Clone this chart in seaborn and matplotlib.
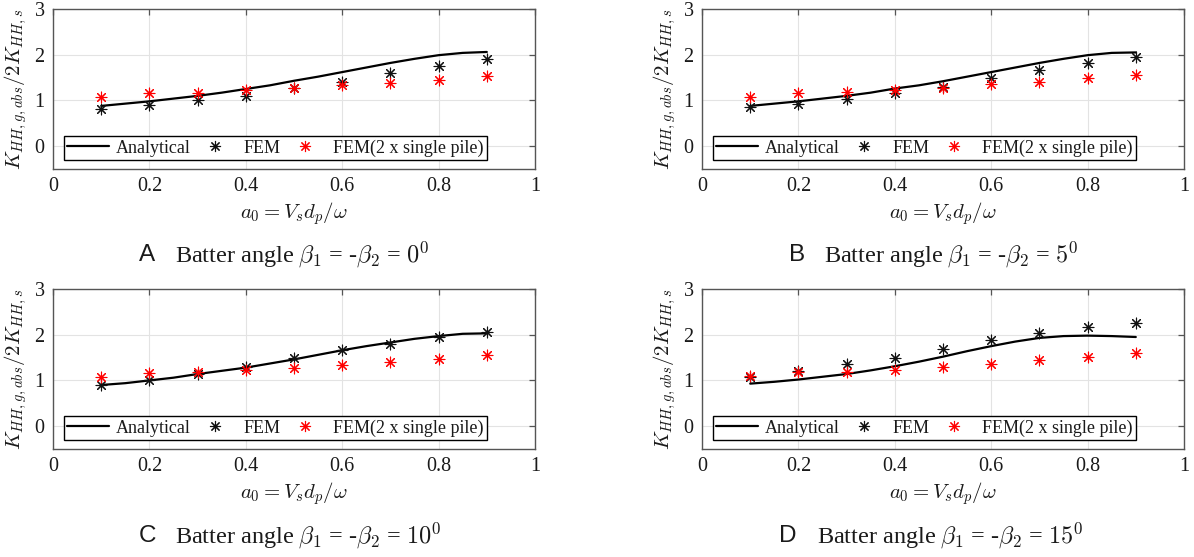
import matplotlib
matplotlib.use("Agg")
import matplotlib.pyplot as plt
from matplotlib.lines import Line2D
import numpy as np
import pandas as pd
import seaborn as sns

# Dimensionless frequency a0 for the FEM results
a0 = [0.1, 0.2, 0.3, 0.4, 0.5, 0.6, 0.7, 0.8, 0.9]
# Frequency grid of the analytical solution
a0_fine = [0.1, 0.15, 0.2, 0.25, 0.3, 0.35, 0.4, 0.45, 0.5, 0.55,
           0.6, 0.65, 0.7, 0.75, 0.8, 0.85, 0.9]

# Panel A: batter angle 0 deg
analytical_A = [0.88, 0.93, 0.98, 1.04, 1.10, 1.17, 1.25, 1.33, 1.43, 1.52,
                1.62, 1.72, 1.82, 1.91, 1.99, 2.04, 2.06]
fem_A = [0.82, 0.89, 1.00, 1.09, 1.27, 1.40, 1.59, 1.76, 1.91]
fem2_A = [1.07, 1.16, 1.17, 1.23, 1.27, 1.34, 1.39, 1.45, 1.54]

# Panel B: batter angle 5 deg
analytical_B = [0.88, 0.93, 0.98, 1.04, 1.10, 1.17, 1.26, 1.33, 1.42, 1.52,
                1.62, 1.72, 1.82, 1.91, 1.99, 2.04, 2.05]
fem_B = [0.85, 0.92, 1.04, 1.16, 1.29, 1.49, 1.66, 1.82, 1.96]
fem2_B = [1.07, 1.17, 1.18, 1.22, 1.28, 1.35, 1.40, 1.48, 1.55]

# Panel C: batter angle 10 deg
analytical_C = [0.90, 0.94, 1.00, 1.06, 1.14, 1.21, 1.28, 1.37, 1.46, 1.56,
                1.66, 1.75, 1.83, 1.91, 1.97, 2.02, 2.03]
fem_C = [0.91, 1.00, 1.15, 1.30, 1.48, 1.66, 1.80, 1.95, 2.07]
fem2_C = [1.07, 1.17, 1.19, 1.22, 1.28, 1.34, 1.40, 1.47, 1.56]

# Panel D: batter angle 15 deg
analytical_D = [0.93, 0.97, 1.02, 1.08, 1.14, 1.22, 1.31, 1.41, 1.52, 1.64,
                1.75, 1.85, 1.93, 1.97, 1.98, 1.97, 1.95]
fem_D = [1.08, 1.20, 1.37, 1.50, 1.69, 1.88, 2.04, 2.16, 2.26]
fem2_D = [1.09, 1.19, 1.18, 1.23, 1.30, 1.37, 1.45, 1.52, 1.60]

panel_letters = ["A", "B", "C", "D"]
batter_angles = ["0", "5", "10", "15"]
series_labels = ["Analytical", "FEM", "FEM(2 x single pile)"]
xtick_values = [0, 0.2, 0.4, 0.6, 0.8, 1]
xtick_labels = ["0", "0.2", "0.4", "0.6", "0.8", "1"]
ytick_values = [0, 1, 2, 3]
ytick_labels = ["0", "1", "2", "3"]

panels = [
    (analytical_A, fem_A, fem2_A),
    (analytical_B, fem_B, fem2_B),
    (analytical_C, fem_C, fem2_C),
    (analytical_D, fem_D, fem2_D),
]

sns.set_theme(style="white")
plt.rcParams["font.family"] = ["Liberation Serif", "DejaVu Serif"]
plt.rcParams["mathtext.fontset"] = "cm"

W, H = 1194, 557
fig = plt.figure(figsize=(W / 100, H / 100), dpi=100)

# axes boxes in pixels: (left, top, width, height)
boxes = [(53, 9, 482, 160), (702, 9, 482, 160), (53, 289, 482, 160), (702, 289, 482, 160)]
caption_x = [(139, 175), (789, 824), (139, 175), (779, 817)]
caption_y = [255, 536]

asterisk = (8, 2, 0)
spine_col = "#555555"
text_col = "#1a1a1a"

for i, (ana, fem, fem2) in enumerate(panels):
    l, t, w, h = boxes[i]
    ax = fig.add_axes([l / W, 1 - (t + h) / H, w / W, h / H])
    ana_df = pd.DataFrame({"a0": a0_fine, "analytical": ana})
    fem_df = pd.DataFrame({"a0": a0, "fem": fem, "fem2": fem2})

    sns.lineplot(data=ana_df, x="a0", y="analytical", ax=ax, color="black",
                 linewidth=1.6, legend=False, zorder=3)
    sns.scatterplot(data=fem_df, x="a0", y="fem", ax=ax, color="#111111",
                    marker=asterisk, s=60, linewidth=0.8, legend=False, zorder=4)
    sns.scatterplot(data=fem_df, x="a0", y="fem2", ax=ax, color="#ff0000",
                    marker=asterisk, s=60, linewidth=0.8, legend=False, zorder=5)

    ax.set_xlim(0, 1)
    ax.set_ylim(-0.5, 3)
    ax.set_xticks(xtick_values)
    ax.set_xticklabels(xtick_labels)
    ax.set_yticks(ytick_values)
    ax.set_yticklabels(ytick_labels)
    ax.grid(True, color="#e3e3e3", linewidth=0.8)
    ax.set_axisbelow(True)
    for s in ax.spines.values():
        s.set_color(spine_col)
        s.set_linewidth(1.0)
    ax.tick_params(direction="in", top=True, right=True, length=4,
                   width=0.9, color=spine_col, labelsize=14.5, pad=6,
                   labelcolor=text_col)

    ax.set_xlabel(r"$a_0 = V_s d_p/\omega$", fontsize=15, labelpad=3,
                  color=text_col)
    ax.set_ylabel(r"$K_{HH,g,abs}/2K_{HH,s}$", fontsize=15, labelpad=4,
                  color=text_col)

    handles = [
        Line2D([], [], color="black", linewidth=1.6),
        Line2D([], [], color="#111111", linestyle="", marker=asterisk,
               markersize=8, markeredgewidth=0.8),
        Line2D([], [], color="#ff0000", linestyle="", marker=asterisk,
               markersize=8, markeredgewidth=0.8),
    ]
    leg = ax.legend(handles, series_labels, ncol=3, loc="lower left",
                    bbox_to_anchor=(0.022, 0.054, 0.878, 0.157), mode="expand",
                    frameon=True, fancybox=False, framealpha=1, edgecolor="black",
                    fontsize=13, handlelength=2.3, handletextpad=0.4,
                    borderpad=0.2, borderaxespad=0, columnspacing=0.8)
    leg.get_frame().set_linewidth(1.0)
    for txt in leg.get_texts():
        txt.set_color(text_col)

    cy = caption_y[i // 2]
    lx, tx = caption_x[i]
    fig.text(lx / W, 1 - cy / H, panel_letters[i], family="Liberation Sans",
             fontsize=17.5, va="center", ha="left", color=text_col)
    fig.text(tx / W, 1 - cy / H,
             r"Batter angle $\beta_1$ = -$\beta_2$ = $" + batter_angles[i] + r"^0$",
             fontsize=17.5, va="center", ha="left", color=text_col)

fig.savefig("out.png", dpi=100, facecolor="white")
